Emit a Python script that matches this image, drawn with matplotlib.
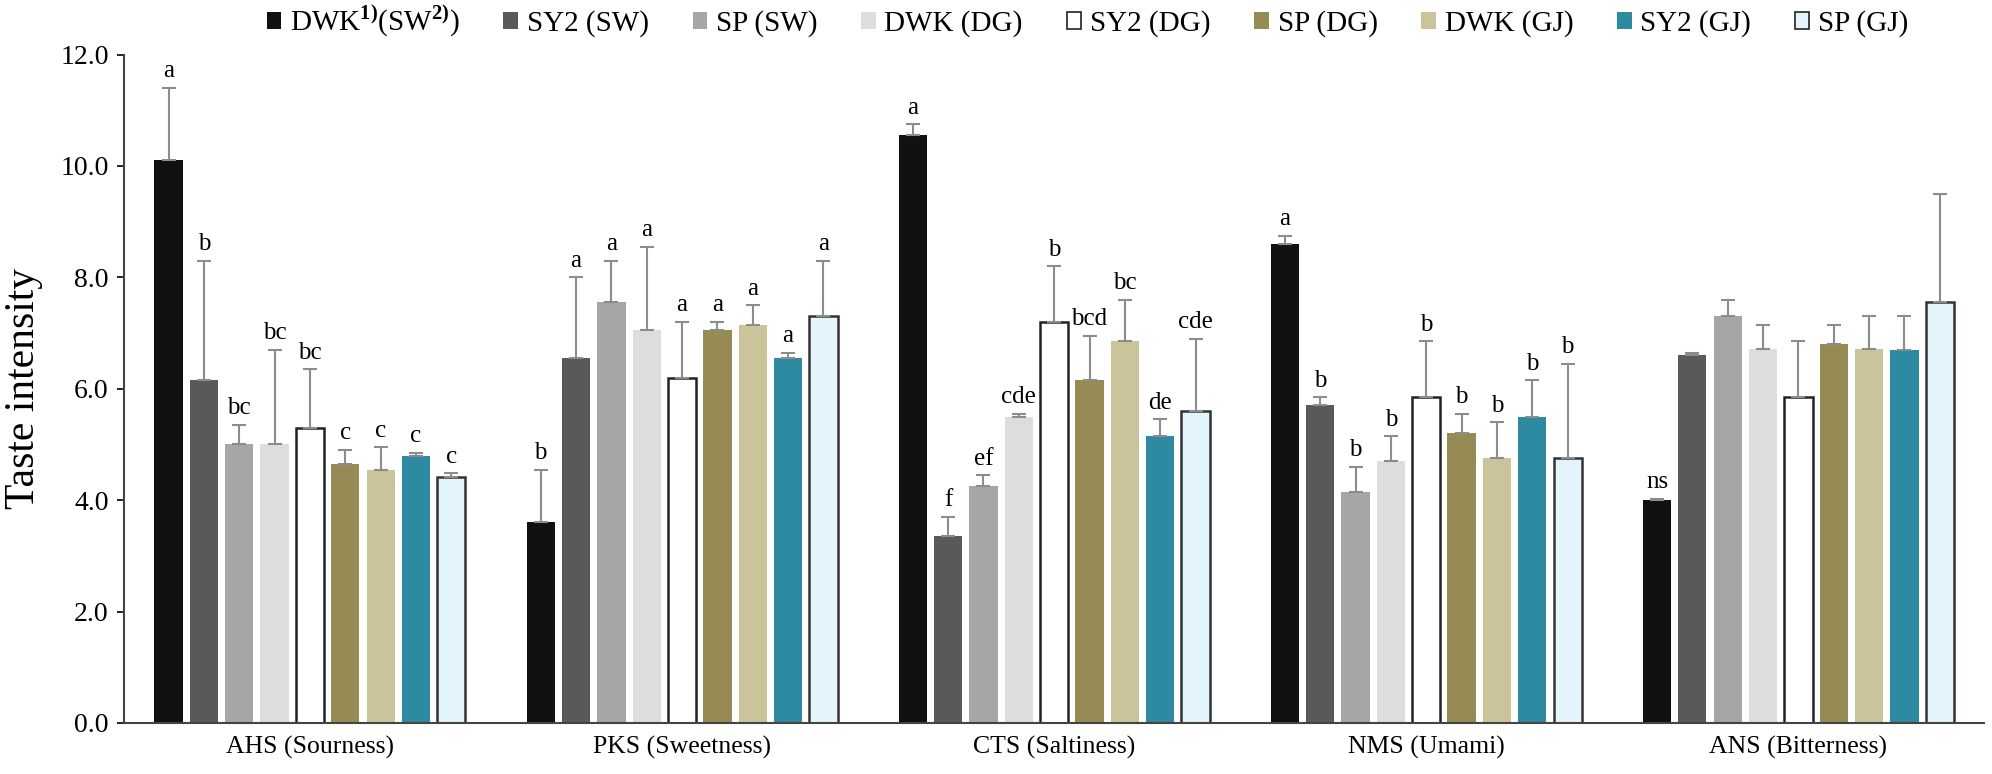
import numpy as np
import matplotlib
matplotlib.use("Agg")
import matplotlib.pyplot as plt

plt.rcParams['font.family'] = ['Liberation Serif', 'DejaVu Serif']
plt.rcParams['mathtext.fontset'] = 'custom'
plt.rcParams['mathtext.rm'] = 'Liberation Serif'
plt.rcParams['mathtext.bf'] = 'Liberation Serif:bold'

# taste attributes (x categories)
categories = ['AHS (Sourness)', 'PKS (Sweetness)', 'CTS (Saltiness)', 'NMS (Umami)', 'ANS (Bitterness)']

# samples (legend entries)
samples = [r'DWK$^{\mathbf{1)}}$(SW$^{\mathbf{2)}}$)', 'SY2 (SW)', 'SP (SW)', 'DWK (DG)', 'SY2 (DG)',
           'SP (DG)', 'DWK (GJ)', 'SY2 (GJ)', 'SP (GJ)']

# mean taste intensity, one row per sample, columns follow categories
dwk_sw = [10.10, 3.60, 10.55, 8.60, 4.00]
sy2_sw = [6.15, 6.55, 3.35, 5.70, 6.60]
sp_sw = [5.00, 7.55, 4.25, 4.15, 7.30]
dwk_dg = [5.00, 7.05, 5.50, 4.70, 6.72]
sy2_dg = [5.30, 6.20, 7.20, 5.85, 5.85]
sp_dg = [4.65, 7.05, 6.15, 5.20, 6.80]
dwk_gj = [4.55, 7.15, 6.85, 4.75, 6.72]
sy2_gj = [4.80, 6.55, 5.15, 5.50, 6.70]
sp_gj = [4.42, 7.30, 5.60, 4.75, 7.55]

# standard deviations (upper error bars)
dwk_sw_sd = [1.30, 0.95, 0.20, 0.15, 0.02]
sy2_sw_sd = [2.15, 1.45, 0.35, 0.15, 0.05]
sp_sw_sd = [0.35, 0.75, 0.20, 0.45, 0.30]
dwk_dg_sd = [1.70, 1.50, 0.05, 0.45, 0.43]
sy2_dg_sd = [1.05, 1.00, 1.00, 1.00, 1.00]
sp_dg_sd = [0.25, 0.15, 0.80, 0.35, 0.35]
dwk_gj_sd = [0.40, 0.35, 0.75, 0.65, 0.58]
sy2_gj_sd = [0.05, 0.10, 0.30, 0.65, 0.60]
sp_gj_sd = [0.06, 1.00, 1.30, 1.70, 1.95]

# significance letters
dwk_sw_sig = ['a', 'b', 'a', 'a', 'ns']
sy2_sw_sig = ['b', 'a', 'f', 'b', '']
sp_sw_sig = ['bc', 'a', 'ef', 'b', '']
dwk_dg_sig = ['bc', 'a', 'cde', 'b', '']
sy2_dg_sig = ['bc', 'a', 'b', 'b', '']
sp_dg_sig = ['c', 'a', 'bcd', 'b', '']
dwk_gj_sig = ['c', 'a', 'bc', 'b', '']
sy2_gj_sig = ['c', 'a', 'de', 'b', '']
sp_gj_sig = ['c', 'a', 'cde', 'b', '']

means = [dwk_sw, sy2_sw, sp_sw, dwk_dg, sy2_dg, sp_dg, dwk_gj, sy2_gj, sp_gj]
sds = [dwk_sw_sd, sy2_sw_sd, sp_sw_sd, dwk_dg_sd, sy2_dg_sd, sp_dg_sd, dwk_gj_sd, sy2_gj_sd, sp_gj_sd]
sigs = [dwk_sw_sig, sy2_sw_sig, sp_sw_sig, dwk_dg_sig, sy2_dg_sig, sp_dg_sig, dwk_gj_sig, sy2_gj_sig, sp_gj_sig]

colors = ['#111111', '#595959', '#a6a6a6', '#dddddd', '#ffffff', '#978b55', '#cbc399', '#2e8aa0', '#e3f4fa']
edges = ['none', 'none', 'none', 'none', '#222222', 'none', 'none', 'none', '#333333']

fig = plt.figure(figsize=(19.92, 7.74), dpi=100)
ax = fig.add_axes([0.0622, 0.066, 0.934, 0.8635])

x = np.arange(len(categories))
pitch = 0.095
width = 0.076
for j in range(len(samples)):
    pos = x + (j - 4) * pitch
    ax.bar(pos, means[j], width, color=colors[j], edgecolor=edges[j],
           linewidth=1.8, label=samples[j], zorder=2)
    ax.errorbar(pos, means[j], yerr=[np.zeros(len(x)), sds[j]], fmt='none',
                ecolor='#8c8c8c', elinewidth=1.5, capsize=5, capthick=1.5, zorder=3)
    for i in range(len(x)):
        if sigs[j][i]:
            ax.annotate(sigs[j][i], (pos[i], means[j][i] + sds[j][i]), xytext=(0, 4),
                        textcoords='offset points', ha='center', va='bottom', fontsize=18)

ax.set_xlim(-0.5, 4.5)
ax.set_ylim(0, 12)
ax.set_yticks(np.arange(0, 12.1, 2))
ax.set_yticklabels(['%.1f' % v for v in np.arange(0, 12.1, 2)], fontsize=20)
ax.set_xticks(x)
ax.set_xticklabels(categories, fontsize=18.5)
ax.tick_params(axis='x', length=0, pad=9)
ax.tick_params(axis='y', length=5, width=1.2, pad=6, direction='out')
ax.set_ylabel('Taste intensity', fontsize=30, labelpad=12)
ax.spines['top'].set_visible(False)
ax.spines['right'].set_visible(False)
ax.spines['left'].set_color('#444444')
ax.spines['bottom'].set_color('#444444')
ax.spines['left'].set_linewidth(1.5)
ax.spines['bottom'].set_linewidth(1.5)

leg = fig.legend(loc='center', bbox_to_anchor=(0.546, 0.972), ncol=9, frameon=False,
                 fontsize=21, handlelength=0.5, handleheight=0.5, handletextpad=0.3,
                 columnspacing=1.5)
for h, ec in zip(leg.legend_handles, edges):
    h.set_edgecolor('#222222' if ec != 'none' else 'none')
    h.set_linewidth(1.2)

fig.savefig('out.png', dpi=100)
